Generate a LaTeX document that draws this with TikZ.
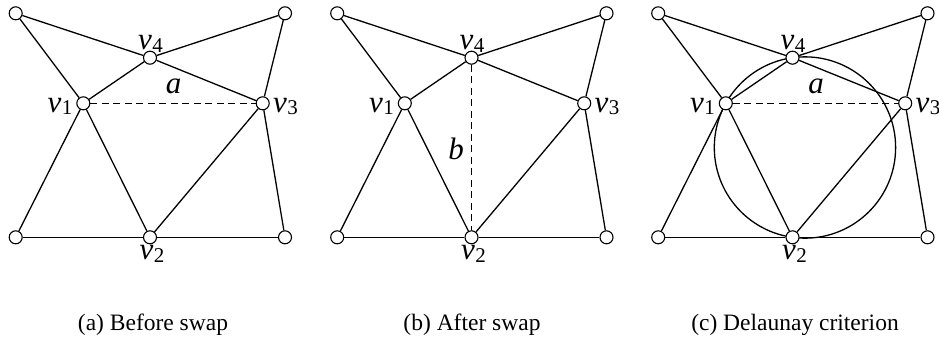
\documentclass[tikz,border=0pt]{standalone}
\usepackage{fontspec}
\setmainfont{Liberation Serif}
\tikzset{
  vtx/.style={circle, draw, fill=white, inner sep=0pt, minimum size=13pt, line width=1.1pt},
  ln/.style={line width=1.3pt},
  dln/.style={line width=1.3pt, dash pattern=on 7pt off 4.5pt},
  lbl/.style={font=\fontsize{31}{34}\selectfont, inner sep=0pt, anchor=base},
  captxt/.style={font=\fontsize{23.5}{26}\selectfont, anchor=base, inner sep=0pt},
}
\newcommand\vsub[1]{\textit{v}\kern0.5pt\raisebox{-2.5pt}{\fontsize{21}{22}\selectfont #1}}
\newcommand\mkvertices[1]{%
  \node[vtx] (#1tl) at (15.7,13.3) {};
  \node[vtx] (#1tr) at (285,13.3) {};
  \node[vtx] (#1v4) at (150,57.7) {};
  \node[vtx] (#1v1) at (83.3,103.3) {};
  \node[vtx] (#1v3) at (262.7,103.3) {};
  \node[vtx] (#1bl) at (15.7,237.3) {};
  \node[vtx] (#1v2) at (150,237.3) {};
  \node[vtx] (#1br) at (285,237.3) {};
  \node[lbl] (#1l4) at (150.5,49.5) {\vsub{4}};
  \node[lbl] (#1l1) at (60,112) {\vsub{1}};
  \node[lbl] (#1l3) at (285.5,112) {\vsub{3}};
  \node[lbl] (#1l2) at (152,259.5) {\vsub{2}};
}
\newcommand\mkedges[1]{%
  \draw[ln] (#1tl) -- (#1v4);
  \draw[ln] (#1tl) -- (#1v1);
  \draw[ln] (#1v4) -- (#1tr);
  \draw[ln] (#1tr) -- (#1v3);
  \draw[ln] (#1v4) -- (#1v1);
  \draw[ln] (#1v4) -- (#1v3);
  \draw[ln] (#1v1) -- (#1bl);
  \draw[ln] (#1v1) -- (#1v2);
  \draw[ln] (#1v3) -- (#1v2);
  \draw[ln] (#1v3) -- (#1br);
  \draw[ln] (#1bl) -- (#1v2);
  \draw[ln] (#1v2) -- (#1br);
}
\begin{document}
\begin{tikzpicture}[x=1pt,y=-1pt]
\useasboundingbox (0,0) rectangle (939,341);
% panel (a)
\begin{scope}
  \mkvertices{a}
  \mkedges{a}
  \draw[dln] (av1) -- (av3);
  \node[lbl] (alabel) at (173.5,93.3) {\textit{a}};
  \node[captxt] (acap) at (153,330) {(a) Before swap};
\end{scope}
% panel (b)
\begin{scope}[xshift=321.5pt]
  \mkvertices{b}
  \mkedges{b}
  \draw[dln] (bv4) -- (bv2);
  \node[lbl] (blabel) at (134.5,159.3) {\textit{b}};
  \node[captxt] (bcap) at (150.5,330) {(b) After swap};
\end{scope}
% panel (c)
\begin{scope}[xshift=642.5pt]
  \draw[ln] (162.46,147.5) circle[radius=90.66pt];
  \mkvertices{c}
  \mkedges{c}
  \draw[dln] (cv1) -- (cv3);
  \node[lbl] (clabel) at (173.5,93.3) {\textit{a}};
  \node[captxt] (ccap) at (152.5,330) {(c) Delaunay criterion};
\end{scope}
\end{tikzpicture}
\end{document}
